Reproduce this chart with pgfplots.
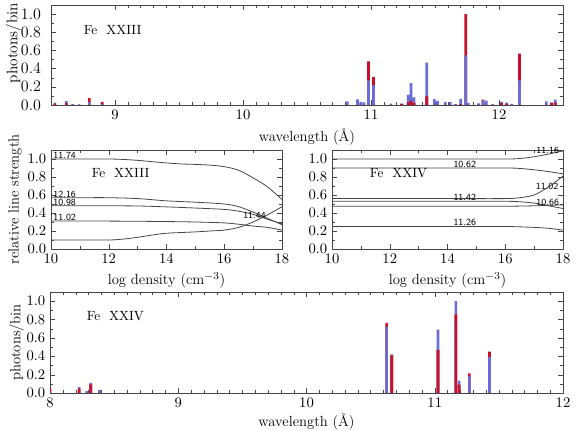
\documentclass[border=0pt]{standalone}
\usepackage{pgfplots}
\usepackage{pgfplotstable}
\pgfplotsset{compat=1.18}

\definecolor{barred}{RGB}{200,16,40}
\definecolor{barblue}{RGB}{108,108,214}
\definecolor{axgray}{RGB}{70,70,70}

% x, blue, red bar heights (photons/bin)
\pgfplotstableread{
x      blue   red
8.53   0.025  0.015
8.62   0.045  0.020
8.67   0.010  0.000
8.72   0.008  0.000
8.80   0.035  0.075
8.90   0.010  0.035
10.815 0.040  0.000
10.895 0.063  0.000
10.92  0.033  0.000
10.945 0.030  0.000
10.98  0.270  0.480
11.02  0.215  0.310
11.155 0.015  0.000
11.24  0.015  0.012
11.291 0.110  0.030
11.312 0.240  0.048
11.336 0.085  0.020
11.435 0.465  0.096
11.495 0.066  0.000
11.52  0.044  0.000
11.58  0.033  0.000
11.62  0.033  0.000
11.66  0.010  0.000
11.70  0.066  0.010
11.74  0.546  1.000
11.76  0.022  0.000
11.84  0.018  0.000
11.875 0.050  0.060
11.90  0.048  0.000
11.95  0.010  0.000
12.02  0.033  0.020
12.06  0.025  0.015
12.10  0.010  0.000
12.16  0.270  0.565
12.37  0.040  0.000
12.41  0.030  0.020
12.44  0.060  0.025
}\fexxiii

\pgfplotstableread{
x      blue   red
8.00   0.010  0.047
8.227  0.065  0.047
8.287  0.020  0.000
8.318  0.110  0.095
8.385  0.030  0.035
10.625 0.720  0.764
10.665 0.420  0.410
11.025 0.690  0.470
11.165 1.000  0.855
11.19  0.135  0.090
11.27  0.180  0.215
11.427 0.390  0.450
}\fexxiv

\pgfplotsset{
  idl/.style={scale only axis, axis line style={axgray}, tick style={axgray},
    major tick length=4pt, minor tick length=2pt, tick align=inside,
    ymin=0, ymax=1.1, ytick={0,0.2,0.4,0.6,0.8,1.0}, minor y tick num=1,
    yticklabel style={/pgf/number format/fixed, /pgf/number format/fixed zerofill,
      /pgf/number format/precision=1},
    tick label style={font=\fontsize{10.5}{12}\selectfont},
    label style={font=\fontsize{11}{13}\selectfont}},
  bars/.style={ybar, bar width=2pt, bar shift=0pt, draw=none},
  curve/.style={axgray, line width=0.6pt, smooth, no marks},
}
\tikzset{lbl/.style={font=\sffamily\fontsize{7}{7}\selectfont, inner sep=0.5pt},
  fe/.style={anchor=west, font=\fontsize{10}{12}\selectfont}}

\begin{document}
\begin{tikzpicture}
\path[use as bounding box] (0,0) rectangle (435.75pt,323.25pt);

% top: Fe XXIII spectrum
\begin{axis}[idl, at={(38.25pt,244.5pt)}, anchor=south west,
  width=384pt, height=75pt,
  xmin=8.5, xmax=12.5, xtick={9,10,11,12}, minor x tick num=9,
  yticklabel style={font=\fontsize{11.5}{13}\selectfont, xshift=-4pt},
  xlabel={wavelength (\AA)}, ylabel={photons/bin},
  ylabel style={at={(axis description cs:-0.073,0.62)}, anchor=center, font=\fontsize{11.5}{13}\selectfont}]
\addplot[bars, fill=barred] table[x=x, y=red] {\fexxiii};
\addplot[bars, fill=barblue] table[x=x, y=blue] {\fexxiii};
\addplot[bars, fill=barred] table[x=x, y expr={\thisrow{red}<\thisrow{blue} ? \thisrow{red} : 0}] {\fexxiii};
\node[fe] at (axis cs:8.72,0.83) {Fe\ \ XXIII};
\end{axis}

% middle left: Fe XXIII line ratios
\begin{axis}[idl, at={(38.25pt,136.5pt)}, anchor=south west,
  width=173.25pt, height=74.25pt,
  xmin=10, xmax=18, xtick={10,12,14,16,18}, minor x tick num=1,
  xlabel={log density (cm$^{-3}$)}, ylabel={relative line strength},
  ylabel style={at={(axis description cs:-0.156,0.5)}, anchor=center}]
\addplot[curve] coordinates {(10,1.0)(11,1.0)(12,1.0)(12.5,0.995)(13,0.985)(13.5,0.97)(14,0.956)(14.5,0.945)(15,0.94)(15.5,0.932)(16,0.915)(16.5,0.875)(17,0.79)(17.5,0.69)(18,0.55)};
\addplot[curve] coordinates {(10,0.57)(11,0.57)(12,0.57)(13,0.56)(14,0.535)(15,0.52)(16,0.50)(16.5,0.47)(17,0.41)(17.5,0.34)(18,0.27)};
\addplot[curve] coordinates {(10,0.48)(11,0.48)(12,0.48)(13,0.478)(14,0.468)(15,0.455)(16,0.44)(16.5,0.42)(17,0.385)(17.5,0.33)(18,0.28)};
\addplot[curve] coordinates {(10,0.31)(11,0.31)(12,0.31)(13,0.308)(14,0.305)(15,0.30)(16,0.29)(16.5,0.275)(17,0.255)(17.5,0.24)(18,0.21)};
\addplot[curve] coordinates {(10,0.10)(11,0.10)(12,0.10)(12.5,0.11)(13,0.13)(13.5,0.155)(14,0.175)(15,0.19)(15.5,0.20)(16,0.21)(16.5,0.24)(17,0.30)(17.5,0.38)(18,0.47)};
\node[lbl, anchor=south west] at (axis cs:10.05,0.99) {11.74};
\node[lbl, anchor=south west] at (axis cs:10.05,0.565) {12.16};
\node[lbl, anchor=south west] at (axis cs:10.05,0.475) {10.98};
\node[lbl, anchor=south west] at (axis cs:10.05,0.305) {11.02};
\node[lbl] at (axis cs:17.05,0.37) {11.44};
\node[fe] at (axis cs:11.25,0.84) {Fe\ \ XXIII};
\end{axis}

% middle right: Fe XXIV line ratios
\begin{axis}[idl, at={(249pt,136.5pt)}, anchor=south west,
  width=173.25pt, height=74.25pt, clip mode=individual,
  xmin=10, xmax=18, xtick={10,12,14,16,18}, minor x tick num=1,
  xlabel={log density (cm$^{-3}$)}]
\addplot[curve] coordinates {(10,1.0)(12,1.0)(14,1.0)(16,1.0)(16.5,1.005)(17,1.025)(17.5,1.055)(18,1.09)};
\addplot[curve] coordinates {(10,0.90)(12,0.90)(14,0.90)(16,0.90)(16.5,0.895)(17,0.88)(17.5,0.86)(18,0.835)};
\addplot[curve] coordinates {(10,0.56)(12,0.56)(14,0.56)(16,0.56)(16.5,0.57)(17,0.60)(17.5,0.69)(18,0.81)};
\addplot[curve] coordinates {(10,0.53)(12,0.53)(14,0.53)(16,0.53)(16.5,0.525)(17,0.51)(17.5,0.48)(18,0.45)};
\addplot[curve] coordinates {(10,0.475)(12,0.475)(14,0.475)(16,0.475)(17,0.48)(17.5,0.485)(18,0.49)};
\addplot[curve] coordinates {(10,0.25)(12,0.25)(14,0.25)(16,0.25)(17,0.24)(17.5,0.23)(18,0.21)};
\node[lbl] at (axis cs:17.47,1.10) {11.16};
\node[lbl] at (axis cs:14.6,0.94) {10.62};
\node[lbl] at (axis cs:17.45,0.69) {11.02};
\node[lbl] at (axis cs:14.6,0.57) {11.42};
\node[lbl] at (axis cs:17.47,0.52) {10.66};
\node[lbl] at (axis cs:14.6,0.29) {11.26};
\node[fe] at (axis cs:11.15,0.84) {Fe\ \ XXIV};
\end{axis}

% bottom: Fe XXIV spectrum
\begin{axis}[idl, at={(37.5pt,28.5pt)}, anchor=south west,
  width=384.75pt, height=75.75pt,
  xmin=8, xmax=12, xtick={8,9,10,11,12}, minor x tick num=9,
  xlabel={wavelength (\AA)}, ylabel={photons/bin},
  xlabel style={yshift=2pt},
  ylabel style={at={(axis description cs:-0.065,0.5)}, anchor=center}]
\addplot[bars, fill=barred] table[x=x, y=red] {\fexxiv};
\addplot[bars, fill=barblue] table[x=x, y=blue] {\fexxiv};
\addplot[bars, fill=barred] table[x=x, y expr={\thisrow{red}<\thisrow{blue} ? \thisrow{red} : 0}] {\fexxiv};
\node[fe] at (axis cs:8.25,0.84) {Fe\ \ XXIV};
\end{axis}
\end{tikzpicture}
\end{document}
